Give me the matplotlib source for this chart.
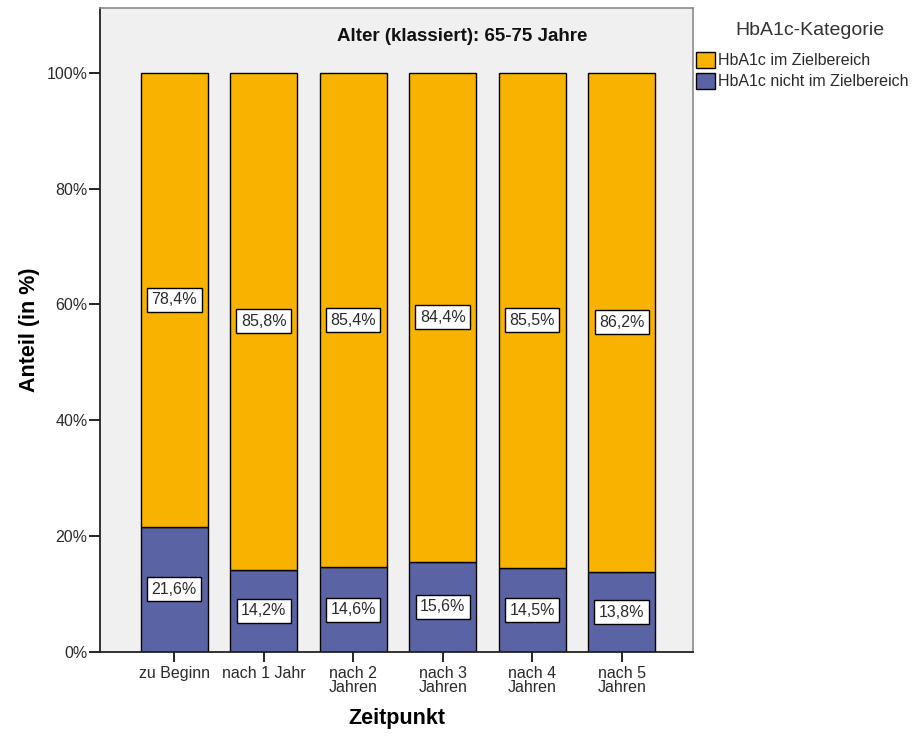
import matplotlib
matplotlib.use("Agg")
import matplotlib.pyplot as plt
from matplotlib.patches import Patch
import numpy as np

plt.rcParams['font.family'] = ['Liberation Sans', 'DejaVu Sans']

categories = ["zu Beginn", "nach 1 Jahr", "nach 2\nJahren", "nach 3\nJahren",
              "nach 4\nJahren", "nach 5\nJahren"]
not_in_target = [21.6, 14.2, 14.6, 15.6, 14.5, 13.8]
in_target = [78.4, 85.8, 85.4, 84.4, 85.5, 86.2]
series_names = ["HbA1c im Zielbereich", "HbA1c nicht im Zielbereich"]
yticks = [0, 20, 40, 60, 80, 100]

c_orange = "#F8B200"
c_blue = "#5A64A5"
c_text = "#2A2A2A"

fig = plt.figure(figsize=(9.17, 7.37), dpi=100)
ax = fig.add_axes([0.109, 0.1153, 0.647, 0.874])
ax.set_facecolor("#F0F0F0")

x = np.arange(len(categories))
w = 0.75
ax.bar(x, not_in_target, width=w, color=c_blue, edgecolor="black", linewidth=1.0, zorder=2)
ax.bar(x, in_target, width=w, bottom=not_in_target, color=c_orange, edgecolor="black",
       linewidth=1.0, zorder=2)

box = dict(boxstyle="square,pad=0.28", facecolor="white", edgecolor="black", linewidth=1.0)
for xi, lo, hi in zip(x, not_in_target, in_target):
    ax.text(xi, lo / 2, f"{lo:.1f}%".replace(".", ","), ha="center", va="center",
            fontsize=11.5, color=c_text, bbox=box, zorder=3)
    ax.text(xi, lo + hi / 2, f"{hi:.1f}%".replace(".", ","), ha="center", va="center",
            fontsize=11.5, color=c_text, bbox=box, zorder=3)

ax.set_xlim(-0.83, 5.80)
ax.set_ylim(0, 111.2)
ax.set_yticks(yticks)
ax.set_yticklabels([f"{t}%" for t in yticks], fontsize=11.5, color=c_text)
ax.set_xticks(x)
ax.set_xticklabels(categories, fontsize=11.5, color=c_text, linespacing=0.95)
ax.tick_params(axis="y", length=8, width=1.2, direction="out", pad=1)
ax.tick_params(axis="x", length=7, width=1.2, direction="out", pad=3)

for s in ["left", "bottom"]:
    ax.spines[s].set_color("#222222")
    ax.spines[s].set_linewidth(1.3)
for s in ["top", "right"]:
    ax.spines[s].set_color("#8C8C8C")
    ax.spines[s].set_linewidth(1.2)

ax.set_ylabel("Anteil (in %)", fontsize=15.5, fontweight="bold", labelpad=5)
ax.set_xlabel("Zeitpunkt", fontsize=15.5, fontweight="bold", labelpad=9)

ax.text(0.61, 0.955, "Alter (klassiert): 65-75 Jahre", transform=ax.transAxes,
        ha="center", va="center", fontsize=13.5, fontweight="bold", color="#111111")

fig.text(0.883, 0.959, "HbA1c-Kategorie", ha="center", va="center", fontsize=14,
         color="#333333")
handles = [Patch(facecolor=c_orange, edgecolor="black", linewidth=1.0),
           Patch(facecolor=c_blue, edgecolor="black", linewidth=1.0)]
leg = fig.legend(handles, series_names, loc="upper left", bbox_to_anchor=(0.759, 0.929),
                 frameon=False, fontsize=11.5, handlelength=1.2, handleheight=1.1,
                 handletextpad=0.15, labelspacing=0.3, borderaxespad=0, borderpad=0)
for t in leg.get_texts():
    t.set_color(c_text)

fig.savefig("out.png", dpi=100)
